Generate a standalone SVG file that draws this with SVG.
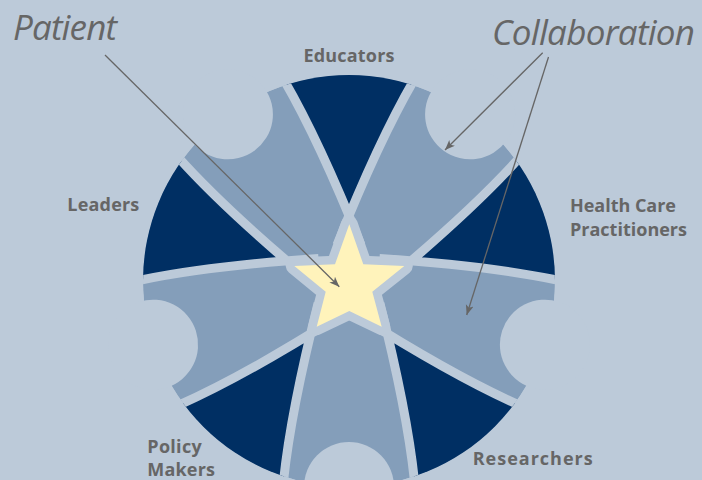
<svg xmlns="http://www.w3.org/2000/svg" width="702" height="480" viewBox="0 0 702 480">
<style>
.bg{fill:#bccad9}
.piece{fill:#849eba}
.dark{fill:#002f63}
.band{fill:none;stroke:#bccad9;stroke-width:9}
.notch{fill:#bccad9}
.star{fill:#fff3bb;stroke:#bccad9;stroke-width:17;stroke-linejoin:round;paint-order:stroke}
.lbl{font-family:"Open Sans","Liberation Sans",sans-serif;font-weight:bold;font-size:18px;fill:#666666}
.big{font-family:"Open Sans","Liberation Sans",sans-serif;font-style:italic;font-size:35px;fill:#666666}
.arrow{stroke:#666666;stroke-width:1.3;fill:none;marker-end:url(#ah)}
</style>
<defs>
<clipPath id="disc"><circle cx="349" cy="281" r="206"/></clipPath>
<path id="wf" d="M284,80 Q314.27,132.16 349,215.7 Q383.73,132.16 414,80 L430,20 L268,20 Z"/>
<path id="wb" d="M284,80 Q319.4,141 361,245 M414,80 Q378.6,141 337,245"/>
<marker id="ah" markerWidth="12" markerHeight="10" refX="10" refY="4" orient="auto" markerUnits="userSpaceOnUse"><path d="M0,0 L10,4 L0,8 L2.5,4 Z" fill="#666666"/></marker>
</defs>
<rect class="bg" x="0" y="0" width="702" height="480"/>
<g clip-path="url(#disc)">
  <g id="collaboration-pieces">
    <circle class="piece" cx="349" cy="281" r="206"/>
  </g>
  <g id="educators">
    <use href="#wf" class="dark"/>
    <use href="#wb" class="band"/>
  </g>
  <g id="health-care-practitioners">
    <use href="#wf" class="dark" transform="rotate(72 349 281)"/>
    <use href="#wb" class="band" transform="rotate(72 349 281)"/>
  </g>
  <g id="researchers">
    <use href="#wf" class="dark" transform="rotate(144 349 281)"/>
    <use href="#wb" class="band" transform="rotate(144 349 281)"/>
  </g>
  <g id="policy-makers">
    <use href="#wf" class="dark" transform="rotate(216 349 281)"/>
    <use href="#wb" class="band" transform="rotate(216 349 281)"/>
  </g>
  <g id="leaders">
    <use href="#wf" class="dark" transform="rotate(288 349 281)"/>
    <use href="#wb" class="band" transform="rotate(288 349 281)"/>
  </g>
</g>
<g id="notches">
  <circle class="notch" cx="349" cy="75" r="45" transform="rotate(36 349 281)"/>
  <circle class="notch" cx="349" cy="75" r="45" transform="rotate(108 349 281)"/>
  <circle class="notch" cx="349" cy="75" r="45" transform="rotate(180 349 281)"/>
  <circle class="notch" cx="349" cy="75" r="45" transform="rotate(252 349 281)"/>
  <circle class="notch" cx="349" cy="75" r="45" transform="rotate(324 349 281)"/>
</g>
<g id="patient">
  <polygon class="star" points="349.3,224.3 363.3,264.3 404.3,266 372.3,291.7 381.7,326.7 349.3,311 316.7,326.7 325.7,291.7 294.3,266 335,264.3"/>
</g>
<g id="labels">
  <text class="lbl" x="303.5" y="61.5" textLength="91">Educators</text>
  <text class="lbl" x="67.3" y="211" textLength="72">Leaders</text>
  <text class="lbl" x="570" y="211.7" textLength="106">Health Care</text>
  <text class="lbl" x="570" y="236" textLength="117">Practitioners</text>
  <text class="lbl" x="147.3" y="453" textLength="54.4">Policy</text>
  <text class="lbl" x="147.3" y="476" textLength="67.7">Makers</text>
  <text class="lbl" x="472.7" y="465" textLength="120">Researchers</text>
  <text class="big" x="13" y="40" textLength="104">Patient</text>
  <text class="big" x="492" y="45" textLength="203">Collaboration</text>
</g>
<g id="connectors">
  <line class="arrow" x1="105" y1="55" x2="339.3" y2="286.7"/>
  <line class="arrow" x1="542.7" y1="52.7" x2="445" y2="150"/>
  <line class="arrow" x1="548.5" y1="57" x2="466.7" y2="315"/>
</g>
</svg>
